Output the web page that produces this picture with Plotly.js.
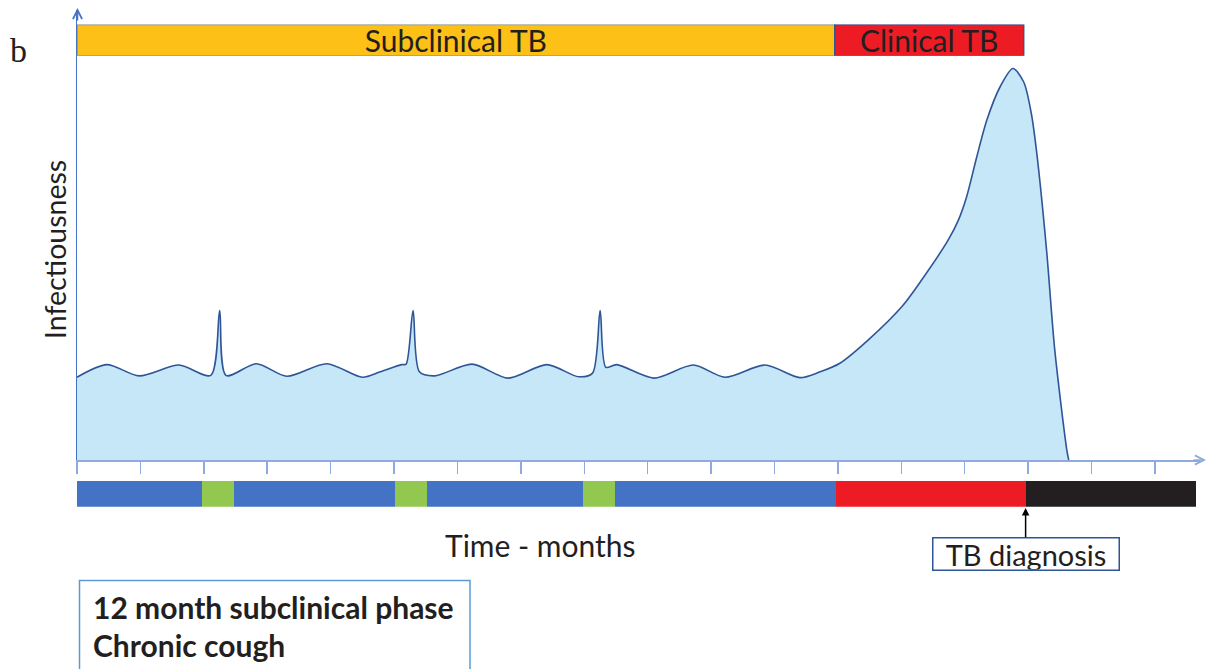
<!DOCTYPE html>
<html>
<head>
<meta charset="utf-8">
<script src="https://cdn.plot.ly/plotly-3.0.1.min.js"></script>
<style>
html,body{margin:0;padding:0;background:#fff;}
#chart{width:1208px;height:669px;}
</style>
</head>
<body>
<div id="chart"></div>
<script>
// ---- data ----
// infectiousness curve (time in months, relative infectiousness)
const months = [0, 0.47, 0.98, 1.61, 2.11, 2.25, 2.35, 2.83, 3.31, 3.94, 4.50, 4.78, 5.12, 5.19, 5.30, 5.40, 5.64, 6.23, 6.80, 7.41, 7.91, 8.13, 8.25, 8.34, 8.51, 9.10, 9.72, 10.22, 10.85, 11.40, 11.72, 12.03, 12.48, 13.01, 13.32, 13.74, 13.90, 14.03, 14.19, 14.35, 14.56, 14.76, 14.93, 15.05, 15.13, 15.29, 15.42, 15.61, 15.64];
const infectiousness = [18.4, 21.2, 18.7, 21.1, 18.8, 33.2, 18.8, 21.4, 18.6, 21.4, 18.4, 19.6, 21.2, 21.3, 33.2, 19.6, 18.7, 21.3, 18.2, 21.2, 18.5, 19.3, 33.2, 20.6, 21.2, 18.2, 21.1, 18.4, 21.1, 18.3, 19.6, 21.5, 26.7, 34.1, 40.0, 48.9, 53.3, 58.5, 67.4, 75.6, 83.0, 87.0, 84.0, 77.0, 68.9, 46.7, 24.4, 2.2, 0];

// top phase bar
const topLabels = ['Subclinical TB', 'Clinical TB'];
const topStart = [0, 11.95];
const topEnd = [11.95, 14.93];

// bottom symptom / status bar
const barStart = [0, 1.97, 2.47, 5.02, 5.52, 7.98, 8.48, 11.97, 14.96];
const barEnd = [1.97, 2.47, 5.02, 5.52, 7.98, 8.48, 11.97, 14.96, 17.64];

const diagnosisMonth = 14.96;
const monthTicks = [0,1,2,3,4,5,6,7,8,9,10,11,12,13,14,15,16,17];

// ---- styles ----
const topColors = ['#FCC016', '#ED1C24'];
const topLineColors = ['#7F93AE', '#2F5597'];
const barColors = ['#4472C4', '#92C850', '#4472C4', '#92C850', '#4472C4', '#92C850', '#4472C4', '#ED1C24', '#231F20'];

const W = 1208, H = 669, L = 77, R = 8, T = 8, B = 159;
const PW = W - L - R, PH = H - T - B;
const px = v => (v - L) / PW;
const py = v => (H - B - v) / PH;
const FONT = 'Lato, "Open Sans", sans-serif';
const INK = '#231F20';

const curve = {
  x: months, y: infectiousness, xaxis: 'x', yaxis: 'y',
  type: 'scatter', mode: 'lines',
  line: {color: '#2F5597', width: 1.6, shape: 'spline', smoothing: 0.8},
  fill: 'tozeroy', fillcolor: '#C5E7F8', hoverinfo: 'skip'
};

const topBar = {
  type: 'bar', orientation: 'h', xaxis: 'x', yaxis: 'y3',
  y: topLabels.map(() => 0), base: topStart,
  x: topEnd.map((e, i) => e - topStart[i]),
  width: topLabels.map(() => 1),
  marker: {color: topColors, line: {color: topLineColors, width: 1.5}},
  text: topLabels, textposition: 'inside', insidetextanchor: 'middle',
  constraintext: 'none', textangle: 0,
  textfont: {family: FONT, size: 30, color: INK},
  hoverinfo: 'skip'
};

const bottomBar = {
  type: 'bar', orientation: 'h', xaxis: 'x', yaxis: 'y2',
  y: barStart.map(() => 0), base: barStart,
  x: barEnd.map((e, i) => e - barStart[i]),
  width: barStart.map(() => 1),
  marker: {color: barColors, line: {width: 0}},
  hoverinfo: 'skip'
};

const hiddenY = {showline: false, showticklabels: false, showgrid: false, zeroline: false, ticks: '', range: [-0.5, 0.5], fixedrange: true};

const txt = (x, y, text, size, extra) => Object.assign({
  xref: 'paper', yref: 'paper', x: px(x), y: py(y), text: text, showarrow: false,
  xanchor: 'center', yanchor: 'middle', font: {family: FONT, size: size, color: INK}
}, extra || {});

const layout = {
  width: W, height: H,
  margin: {l: L, r: R, t: T, b: B},
  paper_bgcolor: '#fff', plot_bgcolor: 'rgba(0,0,0,0)',
  showlegend: false,
  font: {family: FONT, color: INK},
  xaxis: {
    range: [0, PW / 63.41], tickvals: monthTicks, ticks: 'outside', ticklen: 12, tickwidth: 1.5,
    tickcolor: '#8FAADC', showline: true, linecolor: '#8FAADC', linewidth: 1.5,
    showticklabels: false, showgrid: false, zeroline: false, anchor: 'y', fixedrange: true
  },
  yaxis: {
    domain: [py(460), py(10)], range: [0, 100], showline: true, linecolor: '#4472C4', linewidth: 1.5,
    ticks: '', showticklabels: false, showgrid: false, zeroline: false, fixedrange: true
  },
  yaxis2: Object.assign({domain: [py(506.7), py(480.5)], anchor: 'x'}, hiddenY),
  yaxis3: Object.assign({domain: [py(55.7), py(24.5)], anchor: 'x'}, hiddenY),
  bargap: 0,
  shapes: [
    {type: 'rect', xref: 'paper', yref: 'paper', x0: px(79.5), x1: px(470), y0: py(580.5), y1: py(700),
     line: {color: '#5B9BD5', width: 1.5}, fillcolor: 'rgba(0,0,0,0)'}
  ],
  annotations: [
    txt(18, 50, 'b', 34, {font: {family: '"Liberation Serif", "DejaVu Serif", serif', size: 34, color: INK}}),
    txt(55, 250, 'Infectiousness', 28.5, {textangle: -90}),
    txt(540, 545, 'Time - months', 30),
    {xref: 'x', yref: 'paper', x: diagnosisMonth, y: py(508), text: 'TB diagnosis', showarrow: true,
     axref: 'pixel', ayref: 'pixel', ax: 0, ay: 45.5,
     arrowhead: 2, arrowsize: 1, arrowwidth: 1.5, arrowcolor: '#000',
     bordercolor: '#2F5597', borderwidth: 1.5, borderpad: 0, bgcolor: '#fff', width: 185, height: 31,
     font: {family: FONT, size: 29, color: INK}},
    txt(91, 607, '<b>12 month subclinical phase</b>', 30, {xanchor: 'left'}),
    txt(91, 645, '<b>Chronic cough</b>', 30, {xanchor: 'left'}),
    // axis arrowheads
    {xref: 'paper', yref: 'paper', x: px(1206), y: py(460), text: '', showarrow: true,
     axref: 'pixel', ayref: 'pixel', ax: -14, ay: 0,
     arrowhead: 5, arrowsize: 1.2, arrowwidth: 1.5, arrowcolor: '#8FAADC'},
    {xref: 'paper', yref: 'paper', x: px(77.5), y: py(8), text: '', showarrow: true,
     axref: 'pixel', ayref: 'pixel', ax: 0, ay: 14,
     arrowhead: 5, arrowsize: 1.2, arrowwidth: 1.5, arrowcolor: '#4472C4'}
  ]
};

Plotly.newPlot('chart', [curve, bottomBar, topBar], layout, {displayModeBar: false, staticPlot: true});
</script>
</body>
</html>
